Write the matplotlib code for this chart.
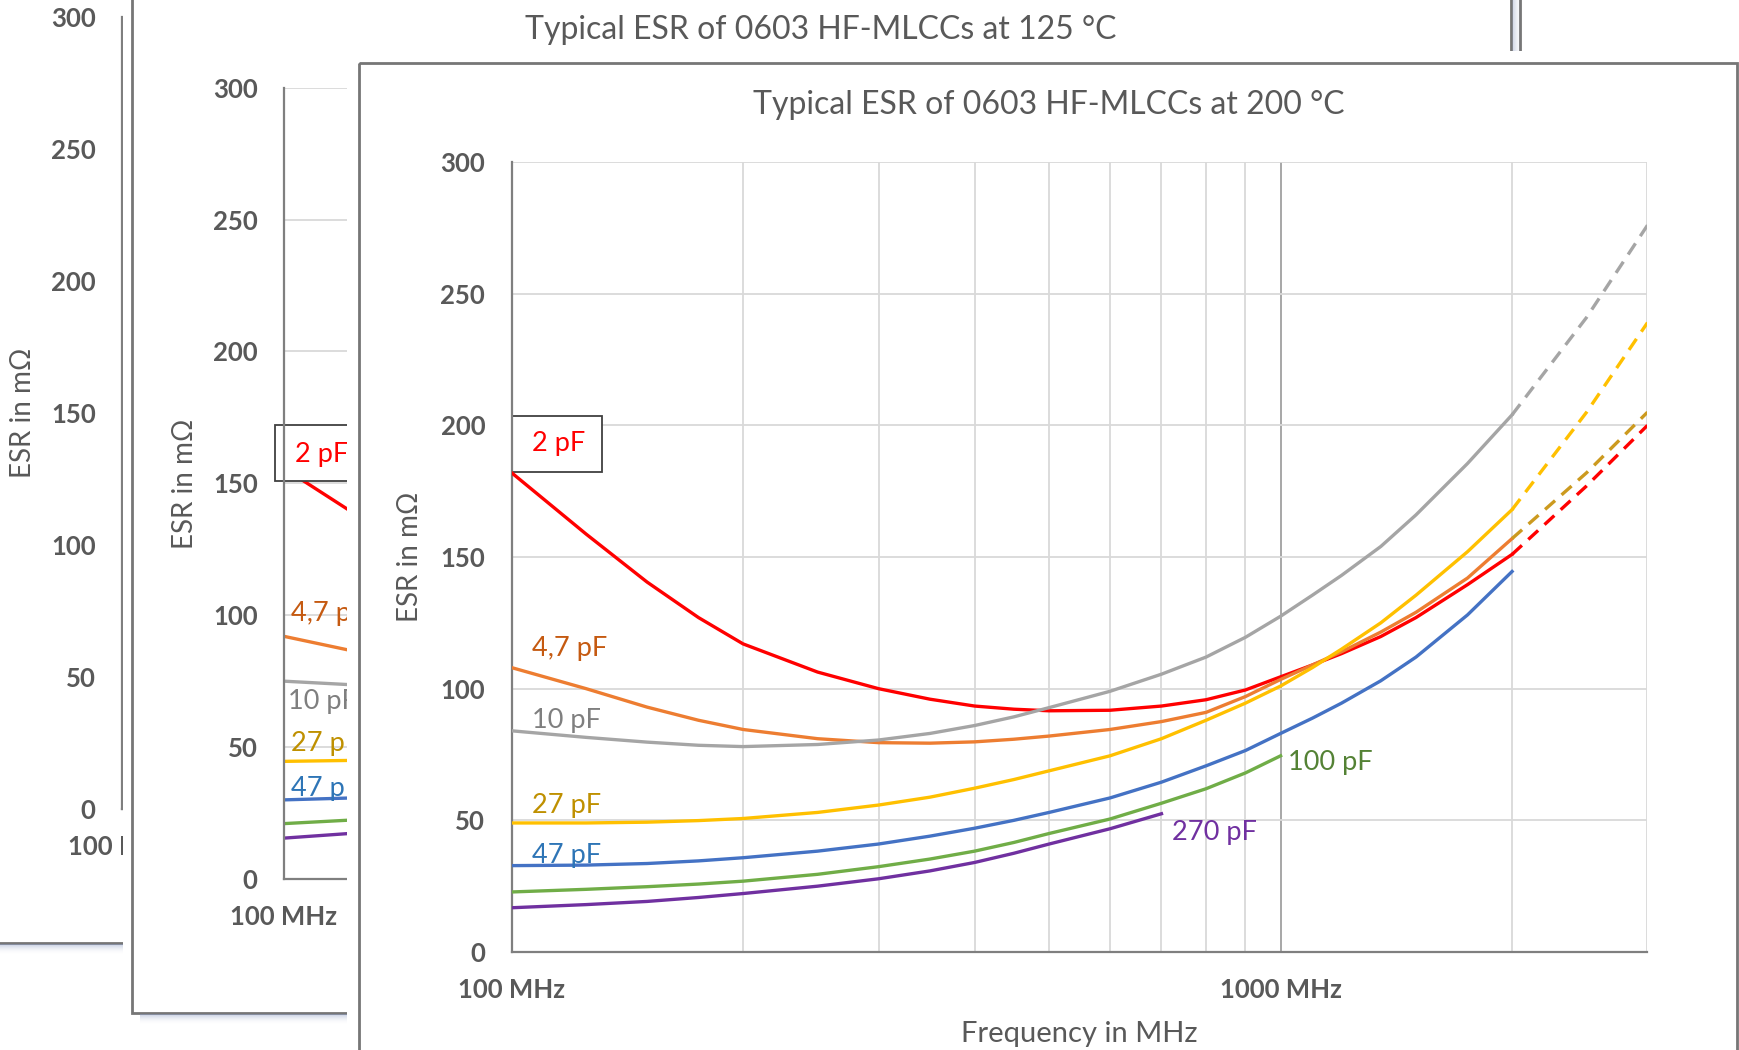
import matplotlib.pyplot as plt
from matplotlib.patches import Rectangle
from matplotlib.transforms import Affine2D
from matplotlib.ticker import FixedLocator, NullFormatter

plt.rcParams['font.family'] = ['Lato', 'DejaVu Sans']

W, H = 1740, 1050
TXT = '#595959'

caps = ['2 pF', '4,7 pF', '10 pF', '27 pF', '47 pF', '100 pF', '270 pF']
line_colors = ['#FF0000', '#ED7D31', '#A5A5A5', '#FFC000', '#4472C4', '#70AD47', '#7030A0']
label_colors = ['#FF0000', '#C55A11', '#7F7F7F', '#BF9000', '#2E75B6', '#548235', '#7030A0']

# ---- front chart: 200 °C ----
freq = [100, 125, 150, 175, 200, 250, 300, 350, 400, 450, 500, 600, 700, 800, 900,
        1000, 1100, 1200, 1350, 1500, 1750, 2000]
esr_2pF = [182, 158.7, 140.5, 127, 117, 106.3, 100, 96, 93.4, 92.2, 91.6, 91.8, 93.4, 95.8, 99.5,
           104.5, 109, 113.3, 119.8, 127, 139.5, 151]
esr_4p7pF = [108, 100, 93, 88, 84.5, 81, 79.5, 79.3, 79.8, 80.8, 82, 84.5, 87.5, 91, 97,
             103.5, 109, 114, 121.5, 129, 142, 157]
esr_10pF = [84, 81.5, 79.7, 78.5, 78, 78.8, 80.5, 83, 86, 89.3, 92.8, 99, 105.5, 112, 119.5,
            127.5, 135.5, 143, 154, 166, 185.5, 204]
esr_27pF = [49, 49, 49.3, 49.9, 50.7, 53, 55.8, 58.8, 62.2, 65.5, 68.8, 74.5, 81, 88, 94.5,
            101, 108, 115, 125, 135.5, 152, 168]
esr_47pF = [32.8, 33, 33.6, 34.6, 35.8, 38.3, 41, 44, 47, 50, 53, 58.5, 64.5, 70.7, 76.5,
            83, 88.8, 94.5, 103, 112, 128, 144.5]
esr_100pF = [22.8, 23.8, 24.8, 25.8, 26.9, 29.5, 32.4, 35.3, 38.3, 41.6, 45, 50.5, 56.5, 62, 68,
             74.5]  # measured up to 1000 MHz
esr_270pF = [16.8, 18, 19.2, 20.7, 22.2, 25, 27.8, 30.8, 34, 37.5, 41, 46.8, 52.5]  # up to 700 MHz
esr200 = [esr_2pF, esr_4p7pF, esr_10pF, esr_27pF, esr_47pF, esr_100pF, esr_270pF]

# dashed extrapolation 2000..3000 MHz
freq_ext = [2000, 2500, 3000]
ext_2pF = [151, 177, 200]
ext_4p7pF = [157, 182, 205]
ext_10pF = [204, 241, 276]
ext_27pF = [168, 205, 239]
ext_curves = [(ext_2pF, '#FF0000'), (ext_4p7pF, '#CC9A1F'), (ext_10pF, '#A5A5A5'), (ext_27pF, '#FFC000')]

# ---- middle chart: 125 °C (only its start is visible) ----
freq_125 = [100, 125]
esr125_2pF = [155.7, 137.5]
esr125_4p7pF = [92, 86]
esr125_10pF = [75, 73.5]
esr125_27pF = [44.6, 45]
esr125_47pF = [30, 30.8]
esr125_100pF = [21, 22.5]
esr125_270pF = [15.5, 17.5]
esr125 = [esr125_2pF, esr125_4p7pF, esr125_10pF, esr125_27pF, esr125_47pF, esr125_100pF, esr125_270pF]

# ---- back chart (hidden except the axis) ----
freq_back = [100, 105]
esr_back = [[132.4, 131], [80.7, 80], [64.6, 64.3], [39, 39], [25.9, 26], [18.6, 18.8], [14.8, 15]]

yticks = [0, 50, 100, 150, 200, 250, 300]
minor_freqs = [200, 300, 400, 500, 600, 700, 800, 900, 2000, 3000]

fig = plt.figure(figsize=(W / 100, H / 100), dpi=100)
pix = Affine2D().scale(1 / W, -1 / H).translate(0, 1) + fig.transFigure


def add_box(left, top, right, bottom):
    return fig.add_axes([left / W, 1 - bottom / H, (right - left) / W, (bottom - top) / H])


def add_bg(left, top, right, bottom, frame):
    bg = add_box(left, top, right, bottom)
    bg.set_xticks([])
    bg.set_yticks([])
    for s in bg.spines.values():
        s.set_visible(False)
    fl, ft, fr, fb = frame
    bg.add_patch(Rectangle((fl, ft), fr - fl, fb - ft, transform=pix, fill=False,
                           ec='#767676', lw=2, clip_on=False))
    return bg


def add_shadow(bg, x0, y0, length, below, strength=0.45):
    n = 10
    for i in range(n):
        a = strength * (1 - i / n) ** 2
        if below:
            r = Rectangle((x0, y0 + i), length, 1.05)
        else:
            r = Rectangle((x0 + i, y0), 1.05, length)
        r.set(transform=pix, fc='#8798c0', alpha=a, lw=0, clip_on=False)
        bg.add_patch(r)


def setup(ax, ylabel_x):
    ax.set_xscale('log')
    ax.set_xlim(100, 3000)
    ax.set_ylim(0, 300)
    ax.xaxis.set_major_locator(FixedLocator([100, 1000]))
    ax.xaxis.set_minor_locator(FixedLocator(minor_freqs))
    ax.xaxis.set_minor_formatter(NullFormatter())
    ax.set_xticks([100, 1000], labels=['100 MHz', '1000 MHz'], fontsize=18.5,
                  fontweight='bold', color=TXT)
    ax.set_yticks(yticks, labels=[str(v) for v in yticks], fontsize=18.5,
                  fontweight='bold', color=TXT)
    ax.tick_params(which='both', length=0)
    ax.tick_params(axis='x', pad=19)
    ax.tick_params(axis='y', pad=19)
    ax.grid(axis='y', color='#d9d9d9', lw=1.3)
    ax.grid(axis='x', which='minor', color='#d9d9d9', lw=1.3)
    ax.grid(axis='x', which='major', color='#a0a0a0', lw=1.3)
    ax.set_axisbelow(True)
    for s in ['top', 'right']:
        ax.spines[s].set_visible(False)
    for s in ['left', 'bottom']:
        ax.spines[s].set_color('#7f7f7f')
        ax.spines[s].set_linewidth(1.6)
    ax.set_ylabel('ESR in mΩ', fontsize=20, color=TXT, va='center')
    ax.yaxis.set_label_coords(ylabel_x, 0.5)


# back chart
bg1 = add_bg(-20, -20, 1530, 944, (-10, -10, 1520, 942.5))
add_shadow(bg1, -10, 944, 140, True)
ax1 = add_box(122, 16.7, 1258, 809)
setup(ax1, -0.0871)
for vals, c in zip(esr_back, line_colors):
    ax1.plot(freq_back, vals, color=c, lw=2.2)

# middle chart
bg2 = add_bg(123, -20, 1513, 1014, (131.7, -10, 1511, 1012.7))
add_shadow(bg2, 140, 1014, 260, True)
add_shadow(bg2, 1512.5, -10, 73, False, strength=0.2)
bg2.text(821, 30, 'Typical ESR of 0603 HF-MLCCs at 125 °C', transform=pix,
         ha='center', va='center', fontsize=23, color=TXT)
ax2 = add_box(284, 87.7, 1420, 879)
setup(ax2, -0.0871)
for vals, c in zip(esr125, line_colors):
    ax2.plot(freq_125, vals, color=c, lw=2.4)
ax2.add_patch(Rectangle((97.3, 150.8), 40, 21.3, fc='white', ec='#404040', lw=1.3,
                        clip_on=False, zorder=2))
ax2.text(103.3, 161.1, caps[0], color=label_colors[0], fontsize=19.5, va='center', zorder=3)
for i, (fx, fy) in zip([1, 2, 3, 4], [(102, 100.5), (101.2, 67.3), (102, 51.2), (102, 34.5)]):
    ax2.text(fx, fy, caps[i], color=label_colors[i], fontsize=19.5, va='center')

# front chart
bg3 = add_bg(347, 51, 1745, 1060, (359.3, 63, 1737, 1065))
bg3.text(1049, 105, 'Typical ESR of 0603 HF-MLCCs at 200 °C', transform=pix,
         ha='center', va='center', fontsize=23, color=TXT)
ax3 = add_box(511.6, 162, 1647.5, 952)
setup(ax3, -0.0894)
ax3.set_xlabel('Frequency in MHz', fontsize=21, color=TXT, va='center')
ax3.xaxis.set_label_coords(0.5, -0.1038)
for vals, c in zip(esr200, line_colors):
    ax3.plot(freq[:len(vals)], vals, color=c, lw=2.4, zorder=3, solid_joinstyle='round')
for vals, c in ext_curves:
    ax3.plot(freq_ext, vals, color=c, lw=2.4, ls=(0, (4, 2.6)), zorder=3)

ax3.add_patch(Rectangle((100, 182.2), 31, 21.5, fc='white', ec='#404040', lw=1.3, zorder=2))
ax3.text(115, 193, caps[0], color=label_colors[0], fontsize=19.5, ha='center', va='center', zorder=4)
label_pos = [(106.2, 115.1), (106.2, 87.8), (106.2, 55.8), (106.2, 36.8), (1022, 71.9), (722.6, 45.2)]
for i, (fx, fy) in zip(range(1, 7), label_pos):
    ax3.text(fx, fy, caps[i], color=label_colors[i], fontsize=19.5, va='center', zorder=4)

fig.savefig('out.png', dpi=100)
